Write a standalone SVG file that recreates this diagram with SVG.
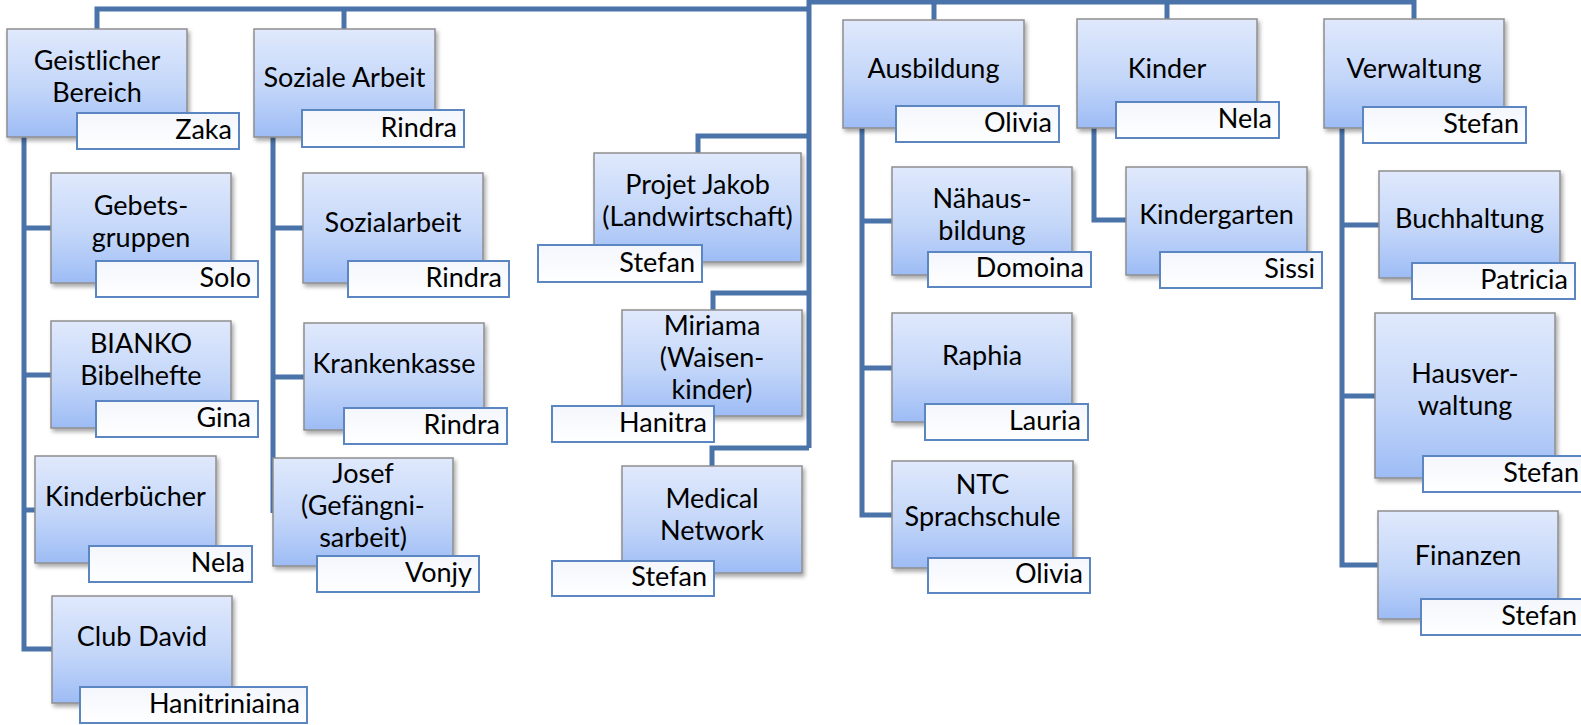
<svg xmlns="http://www.w3.org/2000/svg" width="1581" height="725" viewBox="0 0 1581 725">
<defs>
<linearGradient id="gBox" x1="0" y1="0" x2="0" y2="1">
<stop offset="0" stop-color="#e0e9fc"/>
<stop offset="0.55" stop-color="#c3d6f9"/>
<stop offset="1" stop-color="#9dbcf5"/>
</linearGradient>
<linearGradient id="gName" x1="0" y1="0" x2="0" y2="1">
<stop offset="0" stop-color="#f3f6fc"/>
<stop offset="1" stop-color="#ffffff"/>
</linearGradient>
<filter id="sh" x="-10%" y="-10%" width="130%" height="130%">
<feDropShadow dx="2" dy="3" stdDeviation="2" flood-color="#000" flood-opacity="0.35"/>
</filter>
</defs>
<style>
.box{fill:url(#gBox);stroke:#8e8e8e;stroke-width:1.5;filter:url(#sh)}
.name{fill:url(#gName);stroke:#5b86c2;stroke-width:2}
.t{font-family:Lato,"Liberation Sans",sans-serif;font-size:27px;fill:#000;text-anchor:middle}
.n{font-family:Lato,"Liberation Sans",sans-serif;font-size:27px;fill:#000;text-anchor:end}
.c{fill:none;stroke:#4a73aa;stroke-width:5;stroke-linejoin:miter;stroke-linecap:butt}
</style>
<rect width="1581" height="725" fill="#fff"/>
<g id="connectors">
<path class="c" d="M97,29 V9 H809"/>
<path class="c" d="M344,9 V29"/>
<path class="c" d="M809,0 V448"/>
<path class="c" d="M809,2 H1414 V19"/>
<path class="c" d="M934,2 V20"/>
<path class="c" d="M1167,2 V19"/>
<path class="c" d="M24,137 V649 H52"/>
<path class="c" d="M24,228 H51 M24,375 H51 M24,510 H35"/>
<path class="c" d="M273,137 V513"/>
<path class="c" d="M273,228 H303 M273,377 H304"/>
<path class="c" d="M809,136 H698 V153"/>
<path class="c" d="M809,293 H713 V310"/>
<path class="c" d="M809,448 H712 V466"/>
<path class="c" d="M862,128 V515 H892"/>
<path class="c" d="M862,221 H892 M862,368 H892"/>
<path class="c" d="M1094,128 V220 H1126"/>
<path class="c" d="M1342,128 V565 H1378"/>
<path class="c" d="M1342,225 H1379 M1342,396 H1375"/>
</g>
<g id="geistlicher">
<rect class="box" x="7" y="29" width="180" height="108"/>
<text class="t" x="97" y="70">Geistlicher</text><text class="t" x="97" y="102">Bereich</text>
<rect class="name" x="77" y="113" width="162" height="36"/>
<text class="n" x="232" y="139">Zaka</text>
</g>
<g id="soziale-arbeit">
<rect class="box" x="254" y="29" width="181" height="108"/>
<text class="t" x="344.5" y="87">Soziale Arbeit</text>
<rect class="name" x="302" y="110" width="162" height="37"/>
<text class="n" x="457" y="137">Rindra</text>
</g>
<g id="gebetsgruppen">
<rect class="box" x="51" y="173" width="180" height="110"/>
<text class="t" x="141" y="215">Gebets-</text><text class="t" x="141" y="247">gruppen</text>
<rect class="name" x="96" y="261" width="162" height="36"/>
<text class="n" x="251" y="287">Solo</text>
</g>
<g id="bianko">
<rect class="box" x="51" y="321" width="180" height="107"/>
<text class="t" x="141" y="353">BIANKO</text><text class="t" x="141" y="385">Bibelhefte</text>
<rect class="name" x="96" y="401" width="162" height="36"/>
<text class="n" x="251" y="427">Gina</text>
</g>
<g id="kinderbuecher">
<rect class="box" x="35" y="456" width="181" height="107"/>
<text class="t" x="125.5" y="506">Kinderbücher</text>
<rect class="name" x="89" y="546" width="163" height="36"/>
<text class="n" x="245" y="572">Nela</text>
</g>
<g id="club-david">
<rect class="box" x="52" y="596" width="180" height="107"/>
<text class="t" x="142" y="646">Club David</text>
<rect class="name" x="80" y="687" width="227" height="36"/>
<text class="n" x="300" y="713">Hanitriniaina</text>
</g>
<g id="sozialarbeit">
<rect class="box" x="303" y="173" width="180" height="110"/>
<text class="t" x="393" y="232">Sozialarbeit</text>
<rect class="name" x="348" y="261" width="161" height="36"/>
<text class="n" x="502" y="287">Rindra</text>
</g>
<g id="krankenkasse">
<rect class="box" x="304" y="323" width="180" height="107"/>
<text class="t" x="394" y="373">Krankenkasse</text>
<rect class="name" x="344" y="408" width="163" height="36"/>
<text class="n" x="500" y="434">Rindra</text>
</g>
<g id="josef">
<rect class="box" x="273" y="458" width="180" height="108"/>
<text class="t" x="363" y="483">Josef</text><text class="t" x="363" y="515">(Gefängni-</text><text class="t" x="363" y="547">sarbeit)</text>
<rect class="name" x="317" y="556" width="162" height="36"/>
<text class="n" x="472" y="582">Vonjy</text>
</g>
<g id="projet-jakob">
<rect class="box" x="594" y="153" width="207" height="109"/>
<text class="t" x="697.5" y="194">Projet Jakob</text><text class="t" x="697.5" y="226">(Landwirtschaft)</text>
<rect class="name" x="538" y="245" width="164" height="37"/>
<text class="n" x="695" y="272">Stefan</text>
</g>
<g id="miriama">
<rect class="box" x="622" y="310" width="180" height="106"/>
<text class="t" x="712" y="335">Miriama</text><text class="t" x="712" y="367">(Waisen-</text><text class="t" x="712" y="399">kinder)</text>
<rect class="name" x="552" y="406" width="162" height="36"/>
<text class="n" x="707" y="432">Hanitra</text>
</g>
<g id="medical-network">
<rect class="box" x="622" y="466" width="180" height="107"/>
<text class="t" x="712" y="508">Medical</text><text class="t" x="712" y="540">Network</text>
<rect class="name" x="552" y="561" width="162" height="35"/>
<text class="n" x="707" y="586">Stefan</text>
</g>
<g id="ausbildung">
<rect class="box" x="843" y="20" width="181" height="108"/>
<text class="t" x="933.5" y="78">Ausbildung</text>
<rect class="name" x="896" y="106" width="163" height="36"/>
<text class="n" x="1052" y="132">Olivia</text>
</g>
<g id="naehausbildung">
<rect class="box" x="892" y="167" width="180" height="108"/>
<text class="t" x="982" y="208">Nähaus-</text><text class="t" x="982" y="240">bildung</text>
<rect class="name" x="928" y="252" width="163" height="35"/>
<text class="n" x="1084" y="277">Domoina</text>
</g>
<g id="raphia">
<rect class="box" x="892" y="313" width="180" height="109"/>
<text class="t" x="982" y="365">Raphia</text>
<rect class="name" x="925" y="404" width="163" height="36"/>
<text class="n" x="1081" y="430">Lauria</text>
</g>
<g id="ntc">
<rect class="box" x="892" y="461" width="181" height="107"/>
<text class="t" x="982.5" y="494">NTC</text><text class="t" x="982.5" y="526">Sprachschule</text>
<rect class="name" x="928" y="558" width="162" height="35"/>
<text class="n" x="1083" y="583">Olivia</text>
</g>
<g id="kinder">
<rect class="box" x="1077" y="19" width="180" height="109"/>
<text class="t" x="1167" y="78">Kinder</text>
<rect class="name" x="1116" y="102" width="163" height="36"/>
<text class="n" x="1272" y="128">Nela</text>
</g>
<g id="kindergarten">
<rect class="box" x="1126" y="167" width="181" height="108"/>
<text class="t" x="1216.5" y="224">Kindergarten</text>
<rect class="name" x="1160" y="252" width="162" height="36"/>
<text class="n" x="1315" y="278">Sissi</text>
</g>
<g id="verwaltung">
<rect class="box" x="1324" y="19" width="180" height="109"/>
<text class="t" x="1414" y="78">Verwaltung</text>
<rect class="name" x="1363" y="107" width="163" height="36"/>
<text class="n" x="1519" y="133">Stefan</text>
</g>
<g id="buchhaltung">
<rect class="box" x="1379" y="171" width="181" height="107"/>
<text class="t" x="1469.5" y="228">Buchhaltung</text>
<rect class="name" x="1412" y="263" width="163" height="36"/>
<text class="n" x="1568" y="289">Patricia</text>
</g>
<g id="hausverwaltung">
<rect class="box" x="1375" y="313" width="180" height="165"/>
<text class="t" x="1465" y="383">Hausver-</text><text class="t" x="1465" y="415">waltung</text>
<rect class="name" x="1423" y="456" width="163" height="36"/>
<text class="n" x="1579" y="482">Stefan</text>
</g>
<g id="finanzen">
<rect class="box" x="1378" y="511" width="180" height="108"/>
<text class="t" x="1468" y="565">Finanzen</text>
<rect class="name" x="1421" y="599" width="163" height="36"/>
<text class="n" x="1577" y="625">Stefan</text>
</g>
</svg>
